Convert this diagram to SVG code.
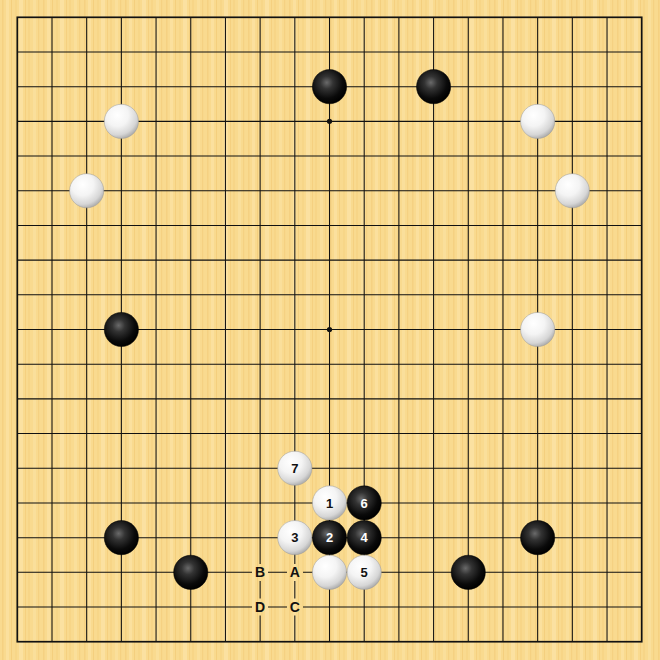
<svg xmlns="http://www.w3.org/2000/svg" width="660" height="660" viewBox="0 0 660 660">
<defs>
<pattern id="wood" patternUnits="userSpaceOnUse" x="0" y="0" width="41" height="660">
<rect width="41" height="660" fill="#F9DA8F"/>
<rect x="2" width="1.5" height="660" fill="#F5D182"/>
<rect x="6" width="3" height="660" fill="#FBE09E"/>
<rect x="11" width="1" height="660" fill="#F4CF7E"/>
<rect x="15" width="2" height="660" fill="#F7D688"/>
<rect x="19" width="4" height="660" fill="#FBE1A1"/>
<rect x="25" width="1" height="660" fill="#F5D080"/>
<rect x="28" width="2" height="660" fill="#F7D587"/>
<rect x="33" width="3" height="660" fill="#FADF9B"/>
<rect x="38" width="1.2" height="660" fill="#F5D182"/>
</pattern>
<radialGradient id="wg" cx="0.38" cy="0.32" r="0.72">
<stop offset="0" stop-color="#FFFFFF"/>
<stop offset="0.45" stop-color="#F4F4F4"/>
<stop offset="0.8" stop-color="#D6D6D6"/>
<stop offset="1" stop-color="#A8A8A8"/>
</radialGradient>
<radialGradient id="bg" cx="0.42" cy="0.38" r="0.62">
<stop offset="0" stop-color="#6A6A6A"/>
<stop offset="0.3" stop-color="#333333"/>
<stop offset="0.75" stop-color="#0A0A0A"/>
<stop offset="1" stop-color="#000000"/>
</radialGradient>
<circle id="W" r="17.1" fill="url(#wg)" stroke="#9A9A9A" stroke-width="0.5"/>
<circle id="B" r="17.1" fill="url(#bg)" stroke="#000" stroke-width="0.5"/>
</defs>
<style>
.ln{stroke:#111;stroke-width:1.05;fill:none}
.edge{stroke:#111;stroke-width:1.7;fill:none}
.nw{font-family:"Liberation Sans",Arial,sans-serif;font-weight:bold;font-size:13px;fill:#111;text-anchor:middle}
.nb{font-family:"Liberation Sans",Arial,sans-serif;font-weight:bold;font-size:13px;fill:#FFF;text-anchor:middle}
.lb{font-family:"Liberation Sans",Arial,sans-serif;font-weight:bold;font-size:14px;fill:#111;text-anchor:middle}
</style>
<rect width="660" height="660" fill="url(#wood)"/>
<g id="grid">
<path class="ln" d="M17.3 51.99H641.72M17.3 86.68H641.72M17.3 121.37H641.72M17.3 156.06H641.72M17.3 190.75H641.72M17.3 225.44H641.72M17.3 260.13H641.72M17.3 294.82H641.72M17.3 329.51H641.72M17.3 364.2H641.72M17.3 398.89H641.72M17.3 433.58H641.72M17.3 468.27H641.72M17.3 502.96H641.72M17.3 537.65H641.72M17.3 572.34H641.72M17.3 607.03H641.72"/>
<path class="ln" d="M51.99 17.3V641.72M86.68 17.3V641.72M121.37 17.3V641.72M156.06 17.3V641.72M190.75 17.3V641.72M225.44 17.3V641.72M260.13 17.3V641.72M294.82 17.3V641.72M329.51 17.3V641.72M364.2 17.3V641.72M398.89 17.3V641.72M433.58 17.3V641.72M468.27 17.3V641.72M502.96 17.3V641.72M537.65 17.3V641.72M572.34 17.3V641.72M607.03 17.3V641.72"/>
<rect class="edge" x="17.3" y="17.3" width="624.42" height="624.42"/>
<circle cx="329.51" cy="121.37" r="2.6" fill="#111"/>
<circle cx="329.51" cy="329.51" r="2.6" fill="#111"/>
</g>
<g id="connectors"></g>
<g id="stones">
<g id="b-k3"><use href="#B" x="329.51" y="86.68"/></g>
<g id="b-n3"><use href="#B" x="433.58" y="86.68"/></g>
<g id="w-d4"><use href="#W" x="121.37" y="121.37"/></g>
<g id="w-q4"><use href="#W" x="537.65" y="121.37"/></g>
<g id="w-c6"><use href="#W" x="86.68" y="190.75"/></g>
<g id="w-r6"><use href="#W" x="572.34" y="190.75"/></g>
<g id="b-d10"><use href="#B" x="121.37" y="329.51"/></g>
<g id="w-q10"><use href="#W" x="537.65" y="329.51"/></g>
<g id="w7"><use href="#W" x="294.82" y="468.27"/><text class="nw" x="294.82" y="472.9">7</text></g>
<g id="w1"><use href="#W" x="329.51" y="502.96"/><text class="nw" x="329.51" y="507.6">1</text></g>
<g id="b6"><use href="#B" x="364.2" y="502.96"/><text class="nb" x="364.2" y="507.6">6</text></g>
<g id="w3"><use href="#W" x="294.82" y="537.65"/><text class="nw" x="294.82" y="542.3">3</text></g>
<g id="b2"><use href="#B" x="329.51" y="537.65"/><text class="nb" x="329.51" y="542.3">2</text></g>
<g id="b4"><use href="#B" x="364.2" y="537.65"/><text class="nb" x="364.2" y="542.3">4</text></g>
<g id="b-d16"><use href="#B" x="121.37" y="537.65"/></g>
<g id="b-q16"><use href="#B" x="537.65" y="537.65"/></g>
<g id="b-f17"><use href="#B" x="190.75" y="572.34"/></g>
<g id="w-k17"><use href="#W" x="329.51" y="572.34"/></g>
<g id="w5"><use href="#W" x="364.2" y="572.34"/><text class="nw" x="364.2" y="577">5</text></g>
<g id="b-o17"><use href="#B" x="468.27" y="572.34"/></g>
</g>
<g id="labels">
<g id="lB"><rect x="252" y="564" width="16" height="17" fill="url(#wood)"/><text class="lb" x="260.13" y="577.4">B</text></g>
<g id="lA"><rect x="287" y="564" width="16" height="17" fill="url(#wood)"/><text class="lb" x="294.82" y="577.4">A</text></g>
<g id="lD"><rect x="252" y="598.5" width="16" height="17" fill="url(#wood)"/><text class="lb" x="260.13" y="612.1">D</text></g>
<g id="lC"><rect x="287" y="598.5" width="16" height="17" fill="url(#wood)"/><text class="lb" x="294.82" y="612.1">C</text></g>
</g>
</svg>
